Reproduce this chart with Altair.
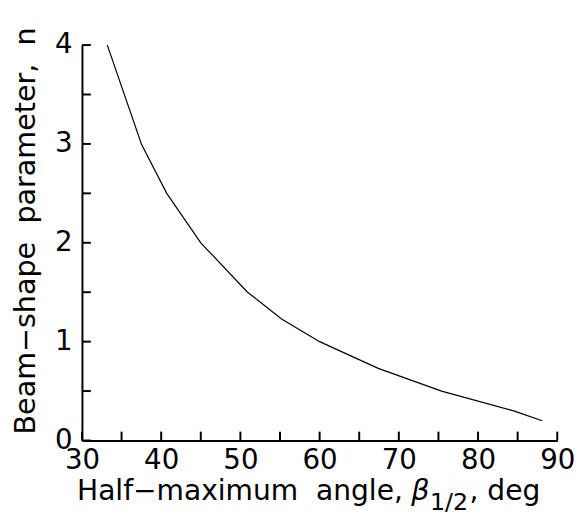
import altair as alt
import pandas as pd

# values
beta = [33.2, 37.5, 40.7, 45.0, 50.9, 55.2, 60.0, 67.4, 75.4, 84.5, 88.1]
n_vals = [4.0, 3.0, 2.5, 2.0, 1.5, 1.23, 1.0, 0.73, 0.5, 0.3, 0.2]
x_major = [30, 40, 50, 60, 70, 80, 90]
x_ticks = [30, 35, 40, 45, 50, 55, 60, 65, 70, 75, 80, 85, 90]
y_major = [0, 1, 2, 3, 4]
y_ticks = [0, 0.5, 1, 1.5, 2, 2.5, 3, 3.5, 4]

FONT = "DejaVu Sans"
W, H = 482, 401
NB = "\u00a0"

df = pd.DataFrame({"beta": beta, "n": n_vals})
xs = alt.Scale(domain=[30, 90], nice=False, zero=False)
ys = alt.Scale(domain=[0, 4], nice=False, zero=False)

line = alt.Chart(df).mark_line(color="black", strokeWidth=1.2).encode(
    x=alt.X("beta:Q", scale=xs, axis=alt.Axis(
        values=x_major, format="d", ticks=False, grid=False, title=None,
        domainColor="black", domainWidth=2, labelColor="black",
        labelFont=FONT, labelFontSize=28, labelPadding=6, labelFlush=False)),
    y=alt.Y("n:Q", scale=ys, axis=alt.Axis(
        values=y_major, format="d", ticks=False, grid=False,
        title=f"Beam−shape{NB}{NB}parameter,{NB}{NB}n",
        titleFont=FONT, titleFontSize=29, titleFontWeight="normal", titleColor="black",
        titlePadding=14, titleY=188,
        domainColor="black", domainWidth=2, labelColor="black",
        labelFont=FONT, labelFontSize=28, labelPadding=10, labelFlush=False)),
)

xt = alt.Chart(pd.DataFrame({"v": x_ticks})).mark_rule(color="black", strokeWidth=2).encode(
    x=alt.X("v:Q", scale=xs), y=alt.value(H), y2=alt.value(H - 9))
yt = alt.Chart(pd.DataFrame({"v": y_ticks})).mark_rule(color="black", strokeWidth=2).encode(
    y=alt.Y("v:Q", scale=ys), x=alt.value(0), x2=alt.value(9))

t1 = alt.Chart(pd.DataFrame({"t": [f"Half−maximum{NB}{NB}angle,"]})).mark_text(
    font=FONT, fontSize=28.5, align="left", baseline="alphabetic", color="black").encode(
    text="t:N", x=alt.value(-5), y=alt.value(461))
t2 = alt.Chart(pd.DataFrame({"t": ["β"]})).mark_text(
    font=FONT, fontSize=29, fontStyle="italic", align="left", baseline="alphabetic", color="black").encode(
    text="t:N", x=alt.value(334), y=alt.value(461))
t3 = alt.Chart(pd.DataFrame({"t": ["1/2"]})).mark_text(
    font=FONT, fontSize=24, align="left", baseline="alphabetic", color="black").encode(
    text="t:N", x=alt.value(353), y=alt.value(471))
t4 = alt.Chart(pd.DataFrame({"t": [f",{NB}deg"]})).mark_text(
    font=FONT, fontSize=28.5, align="left", baseline="alphabetic", color="black").encode(
    text="t:N", x=alt.value(393), y=alt.value(461))

chart = alt.layer(line, xt, yt, t1, t2, t3, t4).properties(
    width=W, height=H,
    autosize=alt.AutoSizeParams(type="none"),
    padding={"left": 75, "top": 34, "right": 19, "bottom": 75},
).configure_view(stroke=None)

chart.save("out.html", embed_options={"renderer": "svg", "actions": False})
